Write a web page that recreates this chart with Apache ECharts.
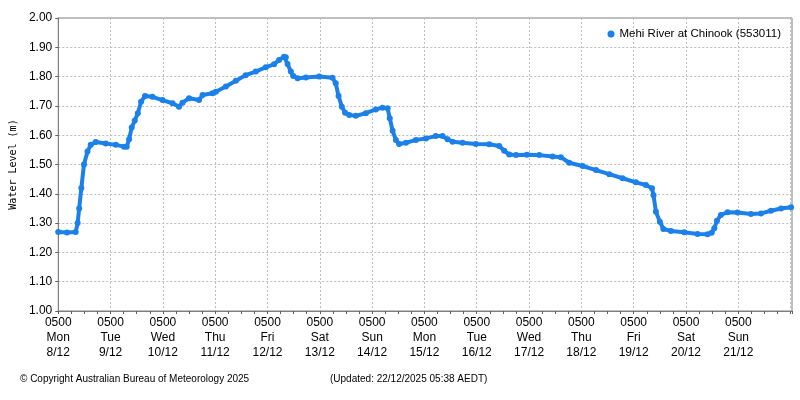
<!DOCTYPE html>
<html>
<head>
<meta charset="utf-8">
<script src="https://cdn.jsdelivr.net/npm/echarts@6/dist/echarts.min.js"></script>
<style>html,body{margin:0;padding:0;background:#fff}#c{width:800px;height:400px}</style>
</head>
<body>
<div id="c"></div>
<script>
// Hours since 05:00 Mon 8/12/2025
var hours = [0, 4, 8, 8.9, 9.6, 10.6, 11.8, 13.4, 14.9, 17.2, 21.8, 26.4, 30.2, 31.4, 32.5, 33.7, 35.1, 36.5, 38.0, 39.8,
  43.2, 47.8, 52.4, 55.4, 57.0, 60.0, 64.6, 66.2, 70.8, 72.3, 76.9, 81.5, 86.0, 90.6, 95.2, 99.0, 101.3, 103.6, 104.4,
  105.2, 106.7, 107.8, 109.8, 113.6, 119.7, 125.8, 127.3, 128.6, 130.1, 131.6, 133.5, 136.5, 141.1, 145.7, 148.8,
  151.1, 152.1, 153.4, 154.9, 156.4, 159.5, 164.1, 168.7, 173.2, 176.3, 178.6, 180.9, 185.5, 191.6, 197.7, 202.3,
  204.6, 206.9, 210.0, 215.0, 220.7, 226.8, 230.6, 234.4, 240.6, 246.7, 252.8, 258.9, 265.0, 269.6, 272.4, 273.1,
  274.2, 276.0, 277.6, 281.1, 287.2, 293.3, 297.9, 299.8, 301.0, 302.2, 304.0, 307.1, 311.7, 317.8, 322.4, 327.0,
  331.6, 336.2];
// Water level (m)
var levels = [1.270, 1.268, 1.270, 1.300, 1.350, 1.420, 1.500, 1.544, 1.567, 1.577, 1.572, 1.567, 1.561, 1.561, 1.586,
  1.626, 1.650, 1.675, 1.714, 1.734, 1.731, 1.720, 1.709, 1.697, 1.711, 1.726, 1.720, 1.737, 1.743, 1.748, 1.766,
  1.786, 1.805, 1.817, 1.832, 1.842, 1.857, 1.868, 1.866, 1.843, 1.817, 1.802, 1.794, 1.797, 1.800, 1.796, 1.777,
  1.734, 1.697, 1.677, 1.669, 1.666, 1.675, 1.688, 1.694, 1.692, 1.658, 1.615, 1.584, 1.570, 1.574, 1.584, 1.589,
  1.597, 1.597, 1.586, 1.578, 1.574, 1.570, 1.569, 1.563, 1.547, 1.534, 1.532, 1.533, 1.532, 1.527, 1.525, 1.506,
  1.495, 1.481, 1.467, 1.453, 1.439, 1.430, 1.419, 1.395, 1.339, 1.305, 1.280, 1.273, 1.269, 1.263, 1.262, 1.267,
  1.282, 1.308, 1.328, 1.337, 1.336, 1.331, 1.333, 1.342, 1.350, 1.354];

var tickTimes = ['0500','0500','0500','0500','0500','0500','0500','0500','0500','0500','0500','0500','0500','0500'];
var tickDays = ['Mon','Tue','Wed','Thu','Fri','Sat','Sun','Mon','Tue','Wed','Thu','Fri','Sat','Sun'];
var tickDates = ['8/12','9/12','10/12','11/12','12/12','13/12','14/12','15/12','16/12','17/12','18/12','19/12','20/12','21/12'];
var yTicks = ['1.00','1.10','1.20','1.30','1.40','1.50','1.60','1.70','1.80','1.90','2.00'];
var seriesName = 'Mehi River at Chinook (553011)';
var copyrightText = '\u00A9 Copyright Australian Bureau of Meteorology 2025';
var updatedText = '(Updated: 22/12/2025 05:38 AEDT)';
var xMaxHours = 14 * 24 + 38 / 60;

var data = hours.map(function (h, i) { return [h, levels[i]]; });
var font = 'Liberation Sans';
var chart = echarts.init(document.getElementById('c'), null, { renderer: 'canvas' });
chart.setOption({
  animation: false,
  backgroundColor: '#ffffff',
  grid: { left: 57.5, right: 8, top: 18, bottom: 89, show: true, borderColor: '#808080', borderWidth: 1, containLabel: false },
  legend: {
    show: true, right: 14, top: 23, icon: 'circle', itemWidth: 7, itemHeight: 7,
    textStyle: { fontFamily: font, fontSize: 11.5, color: '#000' },
    data: [seriesName]
  },
  xAxis: {
    type: 'value', min: 0, max: xMaxHours, interval: 24,
    axisLine: { show: true, onZero: false, lineStyle: { color: '#808080' } },
    axisTick: { show: true, length: 3, lineStyle: { color: '#606060' } },
    minorTick: { show: true, splitNumber: 4, length: 3, lineStyle: { color: '#606060' } },
    splitLine: { show: true, lineStyle: { color: '#bdbdbd', type: [2, 2] } },
    axisLabel: {
      margin: 4, fontFamily: font, fontSize: 12, color: '#000', lineHeight: 15,
      showMaxLabel: false,
      formatter: function (v) {
        var k = v / 24, i = Math.round(k);
        if (Math.abs(k - i) > 1e-6 || i < 0 || i >= tickDays.length) return '';
        return tickTimes[i] + '\n' + tickDays[i] + '\n' + tickDates[i];
      }
    }
  },
  yAxis: {
    type: 'value', min: 1, max: 2, interval: 0.1,
    name: 'Water Level (m)', nameLocation: 'middle', nameGap: 40, nameRotate: 90,
    nameTextStyle: { fontFamily: 'DejaVu Sans Mono', fontSize: 10, color: '#000' },
    axisLine: { show: true, lineStyle: { color: '#808080' } },
    axisTick: { show: true, length: 3, lineStyle: { color: '#606060' } },
    splitLine: { show: true, lineStyle: { color: '#bdbdbd', type: [2, 2] } },
    axisLabel: {
      margin: 6, fontFamily: font, fontSize: 12, color: '#000',
      formatter: function (v) { var i = Math.round((v - 1) * 10); return yTicks[i] !== undefined ? yTicks[i] : ''; }
    }
  },
  series: [{
    name: seriesName, type: 'line', data: data,
    color: '#1b80ea',
    showSymbol: true, showAllSymbol: true, symbol: 'circle', symbolSize: 6,
    lineStyle: { width: 4, color: '#1b80ea', join: 'round', cap: 'round' },
    itemStyle: { color: '#1b80ea' }
  }],
  graphic: [
    { type: 'text', left: 20, top: 374, style: { text: copyrightText, fontFamily: font, fontSize: 10, fill: '#000' } },
    { type: 'text', left: 330, top: 374, style: { text: updatedText, fontFamily: font, fontSize: 10, fill: '#000' } }
  ]
});
</script>
</body>
</html>
